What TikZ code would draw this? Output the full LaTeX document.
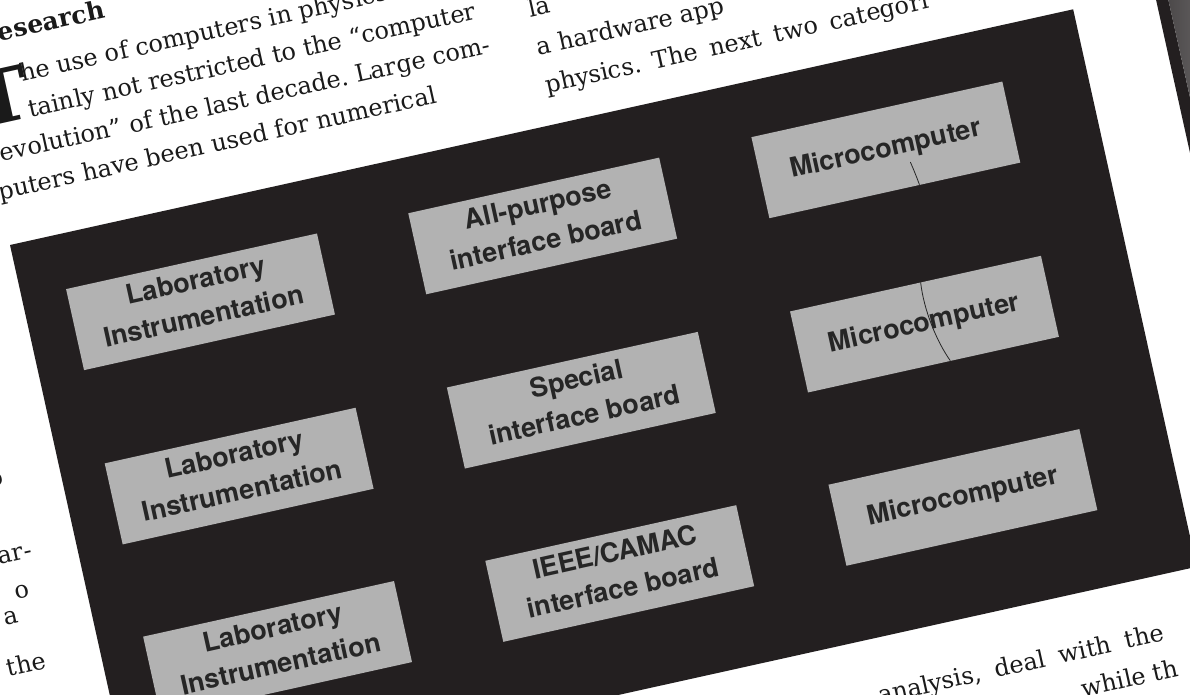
\documentclass[tikz,border=0pt]{standalone}
\usepackage{fontspec}
\setmainfont{DejaVu Serif}
\newfontfamily\boxfont{TeX Gyre Heros}
\definecolor{ink}{HTML}{231F20}
\definecolor{boxgray}{RGB}{178,178,178}
\definecolor{textink}{HTML}{1A1A1A}
\definecolor{labelink}{HTML}{262626}
\tikzset{
  txt/.style={font=\fontsize{24}{24}\selectfont\frenchspacing, text=textink, inner sep=0pt, anchor=base west},
  txtend/.style={txt, anchor=base east},
  headtxt/.style={font=\bfseries\fontsize{25}{25}\selectfont, text=textink, inner sep=0pt, anchor=base west},
  dropcap/.style={font=\bfseries\fontsize{74}{74}\selectfont, text=textink, inner sep=0pt, anchor=base west},
  gbox/.style={fill=boxgray, minimum width=257, minimum height=83, inner sep=0pt, anchor=north west},
  lbl/.style={font=\boxfont\bfseries\fontsize{27}{37}\selectfont, text=labelink, align=center, inner sep=0pt},
  scratch/.style={draw=labelink, line width=0.8pt}
}
\begin{document}
\begin{tikzpicture}[x=1pt,y=1pt]
\useasboundingbox (0,-695) rectangle (1190,0);
\clip (0,-695) rectangle (1190,0);
\fill[white] (0,-695) rectangle (1190,0);
\begin{scope}[shift={(10,-245)},rotate=12.5,transform shape]
  % page edge at the right
  \fill[ink] (1172,300) rectangle (1184,-900);
  \shade[left color=ink, right color=black!18] (1184,300) rectangle (1208,-900);
  \fill[black!18] (1208,300) rectangle (1260,-900);

  % the figure
  \fill[ink] (0,0) rectangle (1089,-571);

  % text above the figure, left column
  \node[headtxt] (head) at (34,201) {esearch};
  \node[dropcap] (dcap) at (-4,120) {T};
  \node[txt] (l1) at (47,157) {he use of computers in physics};
  \node[txt] (l2) at (47,120) {tainly not restricted to the “computer};
  \node[txt] (l3) at (10,83) {evolution” of the last decade. Large com-};
  \node[txt] (l4) at (0,46) {puters have been used for numerical};

  % right column
  \node[txt] (r1) at (557,110) {la};
  \node[txt] (r2) at (557,71) {a hardware app};
  \node[txt] (r3) at (557,32) {\makebox[392pt][s]{physics. The next two categori}};

  % left fragments of the neighbouring column
  \node[txtend] (f0) at (-57,-232) {o};
  \node[txtend] (f1) at (-45,-310) {ar-};
  \node[txtend] (f2) at (-56,-347) {o};
  \node[txtend] (f3) at (-72,-371) {a};
  \node[txtend] (f4) at (-55,-421) {the};

  % text below the figure
  \node[txt] (bt1) at (750,-636) {\makebox[292pt][s]{analysis, deal with the}};
  \node[txt] (bt2) at (950,-674) {while th};

  \node[gbox] (b1) at (45,-55) {};
  \node[gbox] (b2) at (45,-233.5) {};
  \node[gbox] (b3) at (45,-411) {};
  \node[gbox] (b4) at (395.5,-55) {};
  \node[gbox] (b5) at (395.5,-233.5) {};
  \node[gbox] (b6) at (395.5,-411) {};
  \node[gbox] (b7) at (747,-55) {};
  \node[gbox] (b8) at (747,-233.5) {};
  \node[gbox] (b9) at (747,-411) {};

  \node[lbl, yshift=4pt] (t1) at (b1.center) {Laboratory\\Instrumentation};
  \node[lbl, yshift=4pt] (t2) at (b2.center) {Laboratory\\Instrumentation};
  \node[lbl, yshift=4pt] (t3) at (b3.center) {Laboratory\\Instrumentation};
  \node[lbl, yshift=4pt] (t4) at (b4.center) {All-purpose\\interface board};
  \node[lbl, yshift=4pt] (t5) at (b5.center) {Special\\interface board};
  \node[lbl, yshift=4pt] (t6) at (b6.center) {IEEE/CAMAC\\interface board};
  \node[lbl] (t7) at (b7.center) {Microcomputer};
  \node[lbl] (t8) at (b8.center) {Microcomputer};
  \node[lbl] (t9) at (b9.center) {Microcomputer};

  \draw[scratch] (897,-114) .. controls (899,-124) and (900,-131) .. (901,-138);
  \draw[scratch] (881,-233.5) .. controls (878,-262) and (884,-295) .. (893,-316.5);
\end{scope}
\end{tikzpicture}
\end{document}
